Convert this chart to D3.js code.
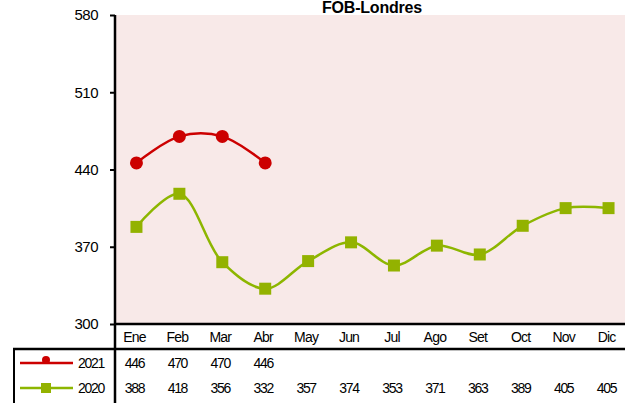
<!DOCTYPE html>
<html>
<head>
    <meta charset="utf-8">
    <script src="https://d3js.org/d3.v7.min.js"></script>
    <style>
        body { margin: 0; background: #fff; }
        text { font-family: "Liberation Sans", Arial, sans-serif; }
    </style>
</head>
<body>
<div id="chart"></div>
<script>
    // data
    let months = ["Ene", "Feb", "Mar", "Abr", "May", "Jun", "Jul", "Ago", "Set", "Oct", "Nov", "Dic"];
    let v2021 = [446, 470, 470, 446];
    let v2020 = [388, 418, 356, 332, 357, 374, 353, 371, 363, 389, 405, 405];
    let yTicks = [300, 370, 440, 510, 580];
    let seriesNames = ["2021", "2020"];
    let seriesColors = ["#cc0000", "#8db600"];

    let width = 625, height = 403;
    let mLeft = 115, mRight = 630, mTop = 15, mBottom = 324;

    let svg = d3.select("#chart").append("svg")
        .attr("width", width).attr("height", height);

    let x = d3.scaleBand().domain(months).range([mLeft, mRight]);
    let y = d3.scaleLinear().domain([300, 580]).range([mBottom, mTop]);

    // plot background
    svg.append("rect")
        .attr("x", mLeft).attr("y", mTop)
        .attr("width", mRight - mLeft).attr("height", mBottom - mTop)
        .attr("fill", "#f8e9e8");

    // title
    svg.append("text")
        .attr("x", 372).attr("y", 13)
        .attr("text-anchor", "middle")
        .attr("font-size", 16).attr("font-weight", "bold")
        .style("letter-spacing", "-0.2px")
        .text("FOB-Londres");

    // y axis
    let yAxis = svg.append("g")
        .attr("transform", `translate(${mLeft},0)`)
        .call(d3.axisLeft(y).tickValues(yTicks).tickSize(5).tickPadding(12));
    yAxis.select(".domain").remove();
    yAxis.selectAll("line").attr("stroke", "#000").attr("stroke-width", 2);
    yAxis.selectAll("text").attr("font-size", 15).attr("fill", "#000")
        .attr("font-family", "'Liberation Sans', Arial, sans-serif")
        .style("letter-spacing", "-0.5px");

    // lines
    let line = d3.line()
        .x((d, i) => x(months[i]) + x.bandwidth() / 2)
        .y(d => y(d))
        .curve(d3.curveCatmullRom.alpha(0.5));

    let g = svg.append("g");
    g.append("path").datum(v2020)
        .attr("d", line).attr("fill", "none")
        .attr("stroke", seriesColors[1]).attr("stroke-width", 2.5);
    g.selectAll(".sq").data(v2020).join("rect")
        .attr("x", (d, i) => x(months[i]) + x.bandwidth() / 2 - 6)
        .attr("y", d => y(d) - 6)
        .attr("width", 12).attr("height", 12)
        .attr("fill", "#93b200");

    g.append("path").datum(v2021)
        .attr("d", line).attr("fill", "none")
        .attr("stroke", seriesColors[0]).attr("stroke-width", 2.5);
    g.selectAll(".dot").data(v2021).join("circle")
        .attr("cx", (d, i) => x(months[i]) + x.bandwidth() / 2)
        .attr("cy", d => y(d))
        .attr("r", 6.5)
        .attr("fill", seriesColors[0]);

    // data table
    let t = svg.append("g");
    t.append("line").attr("x1", mLeft).attr("x2", width).attr("y1", mBottom).attr("y2", mBottom)
        .attr("stroke", "#000").attr("stroke-width", 2.5);
    t.append("line").attr("x1", 13).attr("x2", width).attr("y1", 349).attr("y2", 349)
        .attr("stroke", "#000").attr("stroke-width", 2.5);
    t.append("line").attr("x1", 14).attr("x2", 14).attr("y1", 348).attr("y2", height)
        .attr("stroke", "#000").attr("stroke-width", 2);
    t.append("line").attr("x1", mLeft).attr("x2", mLeft).attr("y1", mTop).attr("y2", height)
        .attr("stroke", "#000").attr("stroke-width", 2.5);

    t.selectAll(".month").data(months).join("text")
        .attr("x", d => x(d) + x.bandwidth() / 2 - 2)
        .attr("y", 342)
        .attr("text-anchor", "middle")
        .attr("font-size", 14)
        .style("letter-spacing", "-0.8px")
        .text(d => d);

    let rows = [v2021, v2020];
    let rowY = [368, 393];
    rows.forEach((vals, r) => {
        t.selectAll(".v" + r).data(vals).join("text")
            .attr("x", (d, i) => x(months[i]) + x.bandwidth() / 2 - 2)
            .attr("y", rowY[r])
            .attr("text-anchor", "middle")
            .attr("font-size", 14)
            .style("letter-spacing", "-1.3px")
            .text(d => d);

        // legend key
        t.append("line").attr("x1", 20).attr("x2", 73)
            .attr("y1", rowY[r] - 5).attr("y2", rowY[r] - 5)
            .attr("stroke", seriesColors[r]).attr("stroke-width", 2.5);
        if (r === 0) {
            t.append("circle").attr("cx", 46).attr("cy", rowY[r] - 8).attr("r", 4)
                .attr("fill", seriesColors[r]);
        } else {
            t.append("rect").attr("x", 41).attr("y", rowY[r] - 10)
                .attr("width", 10).attr("height", 10).attr("fill", "#93b200");
        }
        t.append("text").attr("x", 78).attr("y", rowY[r])
            .attr("font-size", 14)
            .style("letter-spacing", "-1.3px")
            .text(seriesNames[r]);
    });
</script>
</body>
</html>
